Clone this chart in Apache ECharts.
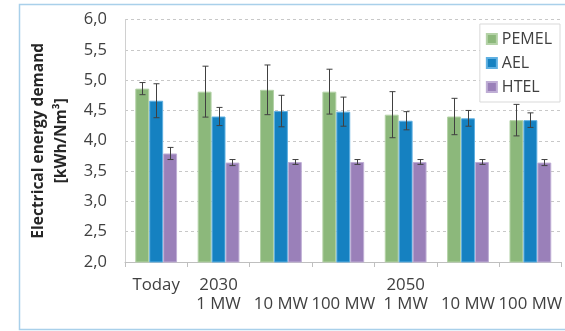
<!DOCTYPE html>
<html>
<head>
<meta charset="utf-8">
<script src="https://cdn.jsdelivr.net/npm/echarts@6/dist/echarts.min.js"></script>
<style>
  html, body { margin: 0; padding: 0; background: #fff; }
  #chart { width: 565px; height: 331px; }
</style>
</head>
<body>
<div id="chart"></div>
<script>
// Categories (scenario / plant size)
const categories = ['Today', '2030\n1 MW', '\n10 MW', '\n100 MW', '2050\n1 MW', '\n10 MW', '\n100 MW'];
const seriesNames = ['PEMEL', 'AEL', 'HTEL'];

// Electrical energy demand in kWh/Nm³ and symmetric error margins
const pemel    = [4.86, 4.81, 4.84, 4.81, 4.43, 4.40, 4.34];
const pemelErr = [0.10, 0.42, 0.41, 0.37, 0.38, 0.30, 0.26];
const ael      = [4.66, 4.40, 4.49, 4.48, 4.33, 4.37, 4.34];
const aelErr   = [0.28, 0.15, 0.26, 0.24, 0.15, 0.13, 0.12];
const htel     = [3.79, 3.64, 3.65, 3.65, 3.65, 3.65, 3.64];
const htelErr  = [0.10, 0.05, 0.04, 0.04, 0.04, 0.04, 0.05];

// Y axis tick labels (decimal comma)
const yTicks = ['2,0', '2,5', '3,0', '3,5', '4,0', '4,5', '5,0', '5,5', '6,0'];

const colors = ['#8cb87b', '#1581c1', '#9a80b9'];
const borders = ['#b4d2a7', '#5fb0e2', '#bfaed5'];
const values = [pemel, ael, htel];
const errors = [pemelErr, aelErr, htelErr];
const GAP = 0.33; // category gap fraction

const chart = echarts.init(document.getElementById('chart'), null, { renderer: 'canvas' });

const barSeries = seriesNames.map((name, k) => ({
  name: name,
  type: 'bar',
  data: values[k],
  barGap: '0%',
  barCategoryGap: (GAP * 100) + '%',
  itemStyle: { color: colors[k], borderColor: borders[k], borderWidth: 1 },
  z: 2
}));

// Error bars drawn on top of each bar
const errorSeries = seriesNames.map((name, k) => ({
  type: 'custom',
  name: name + ' error',
  data: values[k].map((v, i) => [i, v - errors[k][i], v + errors[k][i]]),
  z: 5,
  silent: true,
  encode: { x: 0, y: [1, 2] },
  renderItem: function (params, api) {
    const i = api.value(0);
    const lo = api.coord([i, api.value(1)]);
    const hi = api.coord([i, api.value(2)]);
    const catW = api.size([1, 0])[0];
    const barW = catW * (1 - GAP) / 3;
    const x = Math.round(lo[0] + (k - 1) * barW) + 0.5;
    const cap = 3;
    const style = { stroke: '#404040', lineWidth: 1, fill: null };
    return {
      type: 'group',
      children: [
        { type: 'line', shape: { x1: x, y1: hi[1], x2: x, y2: lo[1] }, style: style },
        { type: 'line', shape: { x1: x - cap, y1: hi[1], x2: x + cap, y2: hi[1] }, style: style },
        { type: 'line', shape: { x1: x - cap, y1: lo[1], x2: x + cap, y2: lo[1] }, style: style }
      ]
    };
  }
}));

const font = 'Open Sans, Liberation Sans, sans-serif';

chart.setOption({
  animation: false,
  textStyle: { fontFamily: font },
  graphic: [{
    type: 'rect',
    shape: { x: 19.5, y: 4.5, width: 600, height: 325 },
    style: { fill: null, stroke: '#a9d0ea', lineWidth: 1.5 },
    z: -10
  }],
  grid: { left: 125, right: 0, top: 19.5, bottom: 69 },
  legend: {
    data: seriesNames,
    orient: 'vertical',
    right: 5,
    top: 24,
    itemWidth: 10,
    itemHeight: 10,
    itemGap: 8,
    padding: [7, 8, 7, 6],
    backgroundColor: '#ffffff',
    borderColor: '#d9d9d9',
    borderWidth: 1,
    icon: 'rect',
    textStyle: { fontSize: 16, color: '#404040', fontFamily: font }
  },
  xAxis: {
    type: 'category',
    data: categories,
    axisLine: { lineStyle: { color: '#bfbfbf', width: 1 } },
    axisTick: { show: true, length: 5, lineStyle: { color: '#bfbfbf' } },
    axisLabel: {
      interval: 0,
      margin: 14,
      fontSize: 16.8,
      lineHeight: 19,
      color: '#404040',
      fontFamily: font
    }
  },
  yAxis: {
    type: 'value',
    min: 2,
    max: 6,
    interval: 0.5,
    name: 'Electrical energy demand\n[kWh/Nm³]',
    nameLocation: 'middle',
    nameGap: 50,
    nameRotate: 90,
    nameTextStyle: { fontSize: 15.5, fontWeight: 'bold', color: '#262626', lineHeight: 23, fontFamily: font },
    axisLine: { show: true, lineStyle: { color: '#d0d0d0', width: 1 } },
    axisTick: { show: false },
    splitLine: { lineStyle: { color: '#c8c8c8', type: [3, 3], width: 1 } },
    axisLabel: {
      margin: 18,
      fontSize: 16.5,
      color: '#404040',
      fontFamily: font,
      formatter: function (v) { return yTicks[Math.round((v - 2) / 0.5)]; }
    }
  },
  series: barSeries.concat(errorSeries)
});
</script>
</body>
</html>
